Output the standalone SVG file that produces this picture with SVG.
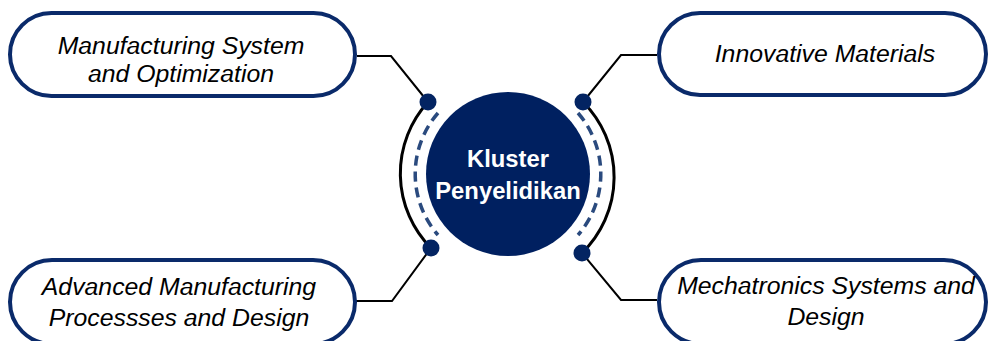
<svg xmlns="http://www.w3.org/2000/svg" width="990" height="341" viewBox="0 0 990 341">
<style>
.pill{fill:#ffffff;stroke:#0a2a6a;stroke-width:4}
.lbl{font-family:"Liberation Sans",Arial,sans-serif;font-style:italic;font-size:24.8px;fill:#000000;text-anchor:middle}
.conn{fill:none;stroke:#000000;stroke-width:2}
.arc{fill:none;stroke:#000000;stroke-width:3}
.dash{fill:none;stroke:#2a4a7e;stroke-width:3.5;stroke-dasharray:10 6}
.dot{fill:#032462}
.ctr{font-family:"Liberation Sans",Arial,sans-serif;font-weight:bold;font-size:23.8px;fill:#ffffff;text-anchor:middle}
</style>
<rect width="990" height="341" fill="#ffffff"/>
<g id="connectors">
<path class="conn" d="M357,56 H391 L428,102"/>
<path class="conn" d="M657,55 H621 L583,102"/>
<path class="conn" d="M355,301 H392 L431,248"/>
<path class="conn" d="M657,300 H621 L582,253"/>
<path class="arc" d="M428,102 A106,106 0 0 0 431,248"/>
<path class="arc" d="M583,102 A106,106 0 0 1 582,253"/>
<path class="dash" d="M438,113 A93,93 0 0 0 438,235"/>
<path class="dash" d="M578,113 A93,93 0 0 1 578,235"/>
<circle class="dot" cx="428" cy="102" r="8.5"/>
<circle class="dot" cx="583" cy="102" r="8.5"/>
<circle class="dot" cx="431" cy="248" r="8.5"/>
<circle class="dot" cx="582" cy="253" r="8.5"/>
</g>
<g id="center">
<circle cx="508" cy="174" r="82" fill="#002060"/>
<text class="ctr" x="508" y="167">Kluster</text>
<text class="ctr" x="508" y="199">Penyelidikan</text>
</g>
<g id="node-manufacturing-system">
<rect class="pill" x="10" y="13" width="345" height="83" rx="41.5"/>
<text class="lbl" x="181" y="54">Manufacturing System</text>
<text class="lbl" x="181" y="82">and Optimization</text>
</g>
<g id="node-innovative-materials">
<rect class="pill" x="659" y="13" width="327" height="82" rx="41"/>
<text class="lbl" x="825" y="62">Innovative Materials</text>
</g>
<g id="node-advanced-manufacturing">
<rect class="pill" x="10" y="260" width="345" height="84" rx="42"/>
<text class="lbl" x="179" y="295">Advanced Manufacturing</text>
<text class="lbl" x="179" y="326">Processses and Design</text>
</g>
<g id="node-mechatronics">
<rect class="pill" x="659" y="260" width="327" height="84" rx="42"/>
<text class="lbl" x="826" y="294">Mechatronics Systems and</text>
<text class="lbl" x="826" y="325">Design</text>
</g>
</svg>
